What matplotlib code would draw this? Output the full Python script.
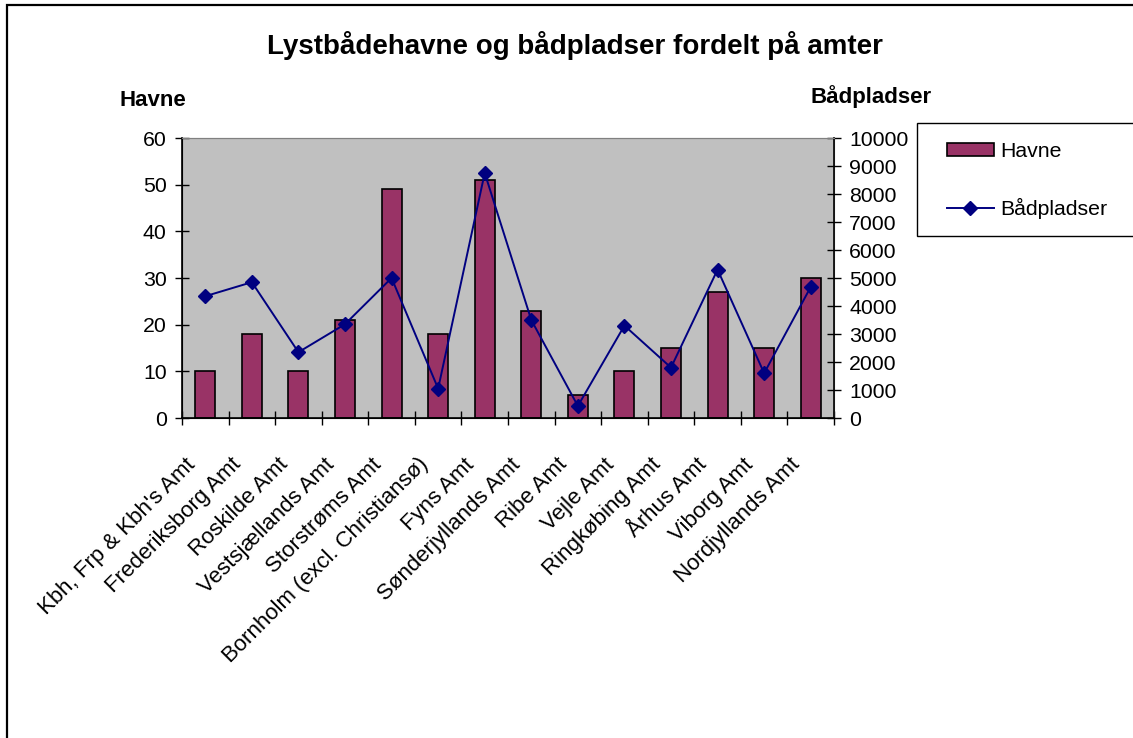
import matplotlib
matplotlib.use("Agg")
import matplotlib.pyplot as plt
from matplotlib.patches import Rectangle, Patch
from matplotlib.lines import Line2D
import numpy as np

plt.rcParams['font.family'] = ['Liberation Sans', 'DejaVu Sans']

categories = ["Kbh, Frp & Kbh's Amt", "Frederiksborg Amt", "Roskilde Amt",
              "Vestsjællands Amt", "Storstrøms Amt", "Bornholm (excl. Christiansø)",
              "Fyns Amt", "Sønderjyllands Amt", "Ribe Amt", "Vejle Amt",
              "Ringkøbing Amt", "Århus Amt", "Viborg Amt", "Nordjyllands Amt"]
havne = [10, 18, 10, 21, 49, 18, 51, 23, 5, 10, 15, 27, 15, 30]
baadpladser = [4350, 4850, 2350, 3350, 5000, 1050, 8750, 3500, 430, 3300,
               1800, 5300, 1600, 4680]
left_ticks = [0, 10, 20, 30, 40, 50, 60]
right_ticks = [0, 1000, 2000, 3000, 4000, 5000, 6000, 7000, 8000, 9000, 10000]

FS = 15.3
W, H = 1133, 738
fig = plt.figure(figsize=(W / 100, H / 100), dpi=100)
fig.patch.set_facecolor('white')

ax = fig.add_axes([182 / W, 1 - 418 / H, (834 - 182) / W, (418 - 138) / H])
ax.set_facecolor('#C0C0C0')
x = np.arange(len(categories))
ax.bar(x, havne, width=0.43, color='#993366', edgecolor='black', linewidth=1.2, zorder=2)
ax.set_xlim(-0.5, len(categories) - 0.5)
ax.set_ylim(0, 60)
ax.set_yticks(left_ticks)
ax.set_xticks(np.arange(-0.5, len(categories), 1.0))
ax.set_xticklabels([])
# label anchors sit slightly left of the category centres, as in the original
ax.set_xticks(x - 0.13, minor=True)
ax.set_xticklabels(categories, minor=True, rotation=45, ha='right', va='top',
                   fontsize=16)
ax.tick_params(axis='x', which='minor', length=0, pad=26)
ax.tick_params(axis='x', which='major', direction='inout', length=10, width=1)
ax.tick_params(axis='y', direction='inout', length=10, width=1, labelsize=FS, pad=6)
for s in ['left', 'bottom']:
    ax.spines[s].set_color('black')
    ax.spines[s].set_linewidth(1.2)
ax.spines['top'].set_color('#808080')
ax.spines['right'].set_color('#808080')

ax2 = ax.twinx()
ax2.plot(x, baadpladser, color='#000080', marker='D', markersize=7,
         linewidth=1.4, markerfacecolor='#000080', markeredgecolor='#000080', zorder=3)
ax2.set_ylim(0, 10000)
ax2.set_yticks(right_ticks)
ax2.tick_params(axis='y', direction='inout', length=10, width=1, labelsize=FS, pad=6)
ax2.spines['right'].set_color('black')
ax2.spines['right'].set_linewidth(1.2)
ax2.spines['top'].set_color('#808080')

fig.text(575 / W, 1 - 45 / H, "Lystbådehavne og bådpladser fordelt på amter",
         ha='center', va='center', fontsize=20, fontweight='bold')
fig.text(153 / W, 1 - 100 / H, "Havne", ha='center', va='center',
         fontsize=16, fontweight='bold')
fig.text(871 / W, 1 - 97 / H, "Bådpladser", ha='center', va='center',
         fontsize=16, fontweight='bold')

# legend frame
fig.patches.append(Rectangle((917 / W, 1 - 236 / H), 240 / W, 113 / H,
                             transform=fig.transFigure, facecolor='white',
                             edgecolor='black', linewidth=1.0, zorder=5))
handles = [Patch(facecolor='#993366', edgecolor='black', linewidth=1.2),
           Line2D([], [], color='#000080', marker='D', markersize=7, linewidth=1.4)]
leg = fig.legend(handles, ["Havne", "Bådpladser"], loc='upper left',
                 bbox_to_anchor=(947 / W, 1 - 142 / H),
                 borderaxespad=0, frameon=False, fontsize=FS, handlelength=2.2,
                 handleheight=0.55, handletextpad=0.3, labelspacing=1.72,
                 borderpad=0)
leg.set_zorder(6)

fig.patches.append(Rectangle((7 / W, -0.2), 1.5, 1 - 5 / H + 0.2,
                             transform=fig.transFigure, fill=False,
                             edgecolor='black', linewidth=1.6))

fig.savefig('out.png', dpi=100)
